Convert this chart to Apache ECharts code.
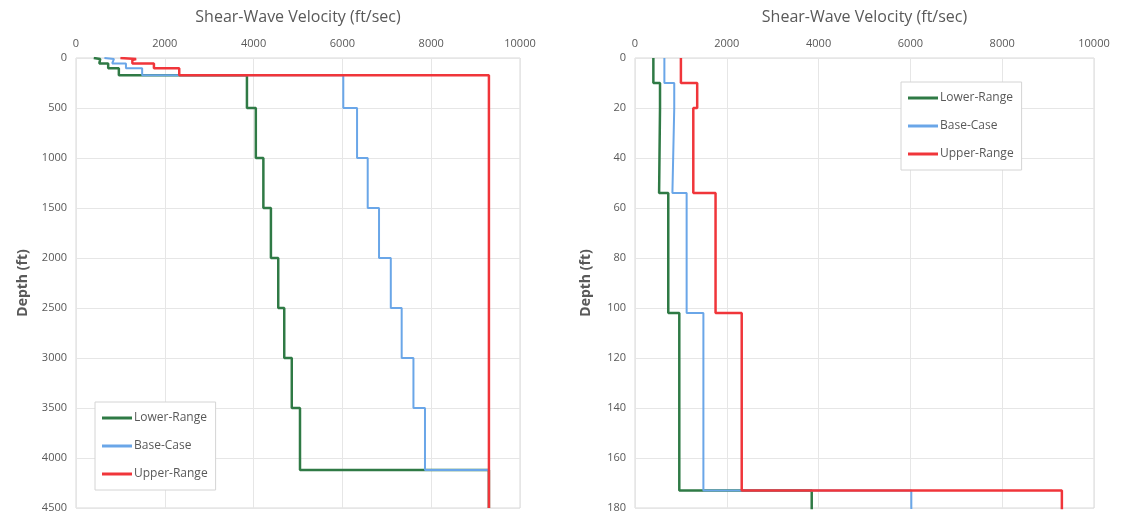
<!DOCTYPE html>
<html>
<head>
<meta charset="utf-8">
<script src="https://cdn.jsdelivr.net/npm/echarts@6/dist/echarts.min.js"></script>
<style>
  html, body { margin: 0; padding: 0; background: #fff; }
  #chart { width: 1125px; height: 518px; }
</style>
</head>
<body>
<div id="chart"></div>
<script>
// layer tops (ft) and shear-wave velocity of each layer (ft/sec)
var layerTops = [0, 10, 20, 54, 102, 173, 500, 1000, 1500, 2000, 2500, 3000, 3500, 4120];
var profileBottom = 4500;
var lowerRange = [400, 545, 525, 725, 965, 3850, 4050, 4220, 4390, 4555, 4690, 4860, 5045, 9300];
var baseCase = [640, 855, 815, 1125, 1490, 6020, 6330, 6570, 6825, 7090, 7335, 7600, 7860, 9300];
var upperRange = [1000, 1355, 1270, 1755, 2325, 9300, 9300, 9300, 9300, 9300, 9300, 9300, 9300, 9300];
var seriesNames = ['Lower-Range', 'Base-Case', 'Upper-Range'];
var seriesColors = ['#2f7a45', '#6aa6e8', '#f0353a'];

// turn layer values into a step profile [velocity, depth]
function profile(vals) {
  var pts = [];
  for (var i = 0; i < vals.length; i++) {
    var bot = i + 1 < layerTops.length ? layerTops[i + 1] : profileBottom;
    pts.push([vals[i], layerTops[i]]);
    pts.push([vals[i], bot]);
  }
  return pts;
}

var txt = '#595959';
var font = 'Open Sans';
var plain = function (v) { return String(v); };

function xAx(idx) {
  return {
    gridIndex: idx, type: 'value', position: 'top', min: 0, max: 10000, interval: 2000,
    name: 'Shear-Wave Velocity (ft/sec)', nameLocation: 'middle', nameGap: 33,
    nameTextStyle: { color: txt, fontSize: 16, fontFamily: font },
    axisLine: { show: false }, axisTick: { show: false },
    axisLabel: { color: txt, fontSize: 11, fontFamily: font, margin: 9, formatter: plain },
    splitLine: { lineStyle: { color: '#e6e6e6' } }
  };
}
function yAx(idx, max, step) {
  return {
    gridIndex: idx, type: 'value', inverse: true, min: 0, max: max, interval: step,
    name: 'Depth (ft)', nameLocation: 'middle', nameGap: idx === 0 ? 46 : 42,
    nameTextStyle: { color: txt, fontSize: 14, fontWeight: 'bold', fontFamily: font },
    axisLine: { show: false }, axisTick: { show: false },
    axisLabel: { color: txt, fontSize: 11, fontFamily: font, margin: 9, formatter: plain },
    splitLine: { lineStyle: { color: '#e6e6e6' } }
  };
}

var data = [lowerRange, baseCase, upperRange];
var series = [];
[0, 1].forEach(function (g) {
  data.forEach(function (vals, k) {
    series.push({
      name: seriesNames[k], type: 'line', xAxisIndex: g, yAxisIndex: g,
      data: profile(vals), showSymbol: false, symbol: 'none', animation: false,
      lineStyle: { color: seriesColors[k], width: k === 1 ? 2 : 2.5 },
      itemStyle: { color: seriesColors[k] }
    });
  });
});

function legendBox(left, top) {
  return {
    data: seriesNames, orient: 'vertical', left: left, top: top,
    icon: 'rect', itemWidth: 30, itemHeight: 3, itemGap: 16, padding: [10, 8, 10, 7],
    borderColor: '#d4d4d4', borderWidth: 1, backgroundColor: '#fff',
    textStyle: { color: txt, fontSize: 12, fontFamily: font, padding: [0, 0, 0, -3] },
    selectedMode: false
  };
}

var chart = echarts.init(document.getElementById('chart'));
chart.setOption({
  backgroundColor: '#fff',
  grid: [
    { left: 76, top: 58, width: 444, height: 450, outerBoundsMode: 'none', show: true, borderColor: '#d9d9d9', backgroundColor: 'transparent' },
    { left: 635, top: 58, width: 459, height: 450, outerBoundsMode: 'none', show: true, borderColor: '#d9d9d9', backgroundColor: 'transparent' }
  ],
  xAxis: [xAx(0), xAx(1)],
  yAxis: [yAx(0, 4500, 500), yAx(1, 180, 20)],
  legend: [legendBox(95, 402), legendBox(901, 82)],
  series: series
});
</script>
</body>
</html>
